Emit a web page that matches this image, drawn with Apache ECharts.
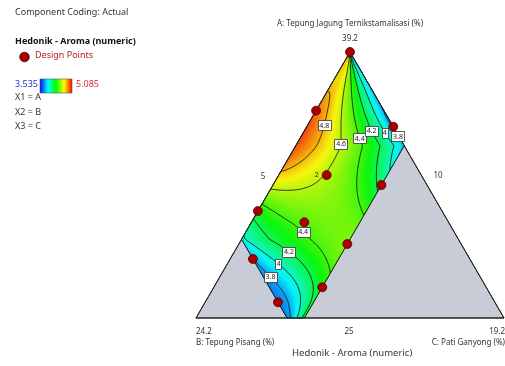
<!DOCTYPE html>
<html>
<head>
<meta charset="utf-8">
<script src="https://cdn.jsdelivr.net/npm/echarts@6/dist/echarts.min.js"></script>
<style>
html, body { margin: 0; padding: 0; background: #fff; }
#chart { width: 505px; height: 366px; }
</style>
</head>
<body>
<div id="chart"></div>
<script>
// ---- mixture definition (actual %, constant total) ----
const componentNames = ['A: Tepung Jagung Ternikstamalisasi (%)', 'B: Tepung Pisang (%)', 'C: Pati Ganyong (%)'];
const componentLow = [25, 10, 5];
const componentHigh = [39.2, 20, 10];
const mixtureTotal = 54.2;

// values printed at the simplex vertices (A, B, C) and at the opposite edges
const vertexLabels = ['39.2', '24.2', '19.2'];
const edgeLabels = ['25', '10', '5'];

// ---- design points (A, B, C) and replicate counts ----
const designA = [39.20, 36.07, 32.63, 35.21, 32.10, 30.71, 30.11, 28.95, 28.15, 26.64, 25.84];
const designB = [10.00, 13.13, 14.36, 10.00, 12.10, 18.49, 16.65, 15.25, 20.00, 17.56, 20.00];
const designC = [5.00, 5.00, 7.21, 8.99, 10.00, 5.00, 7.44, 10.00, 6.05, 10.00, 8.36];
const designReps = [1, 1, 2, 1, 1, 1, 1, 1, 1, 1, 1];

// ---- response readings: Hedonik - Aroma at known blends ----
const readA = [38.06, 35.19, 33.63, 33.11, 33.02, 36.54, 35.93, 34.22, 33.11, 32.84, 31.89, 31.67,
  38.14, 34.70, 33.90, 32.31, 30.64, 30.89, 30.37, 29.66, 28.98, 27.17,
  36.81, 34.87, 33.90, 32.16, 29.66, 28.56, 27.91, 25.14,
  35.05, 33.11, 37.96, 29.24, 27.86, 25.00,
  34.87, 37.07, 34.20, 28.60, 27.17, 25.00, 27.84, 26.42, 25.00,
  35.51, 32.58, 30.45, 28.92, 38.49, 33.52, 31.39, 28.55, 26.42, 38.49, 38.77, 27.84, 33.86,
  35.65, 28.55, 25.71, 27.13];
const readB = [11.14, 13.26, 14.74, 15.59, 16.18, 11.63, 12.02, 13.05, 13.66, 13.98, 15.37, 17.53,
  10.50, 12.02, 12.34, 12.98, 13.58, 18.31, 17.67, 16.90, 16.73, 17.03,
  10.60, 11.16, 11.56, 12.16, 19.54, 18.11, 17.43, 19.16,
  10.53, 11.09, 10.25, 19.96, 19.01, 19.51,
  10.08, 10.00, 10.00, 19.86, 19.77, 19.84, 20.00, 20.00, 20.00,
  13.69, 14.39, 15.07, 15.28, 10.36, 12.84, 16.39, 16.39, 18.52, 10.00, 10.43, 17.81, 10.34,
  10.00, 20.00, 20.00, 20.00];
const readC = [5.00, 5.75, 5.83, 5.50, 5.00, 6.03, 6.25, 6.93, 7.43, 7.38, 6.94, 5.00,
  5.56, 7.48, 7.96, 8.91, 9.98, 5.00, 6.16, 7.64, 8.49, 10.00,
  6.79, 8.17, 8.74, 9.88, 5.00, 7.53, 8.86, 9.90,
  8.62, 10.00, 5.99, 5.00, 7.33, 9.69,
  9.25, 7.13, 10.00, 5.74, 7.26, 9.36, 6.36, 7.78, 9.20,
  5.00, 7.23, 8.68, 10.00, 5.35, 7.84, 6.42, 9.26, 9.26, 5.71, 5.00, 8.55, 10.00,
  8.55, 5.65, 8.49, 7.07];
const readValue = [4.8, 4.8, 4.8, 4.8, 4.8, 4.6, 4.6, 4.6, 4.6, 4.6, 4.6, 4.6,
  4.4, 4.4, 4.4, 4.4, 4.4, 4.4, 4.4, 4.4, 4.4, 4.4,
  4.2, 4.2, 4.2, 4.2, 4.2, 4.2, 4.2, 4.2,
  4.0, 4.0, 4.0, 4.0, 4.0, 4.0,
  3.8, 3.85, 3.77, 3.8, 3.8, 3.8, 3.77, 3.75, 3.73,
  4.92, 4.66, 4.55, 4.45, 4.45, 4.47, 4.5, 4.43, 4.15, 3.88, 4.7, 4.15, 3.8,
  3.82, 3.78, 3.74, 3.76];

// ---- contour levels and where their value tags sit (A, B, C) ----
const contourLevels = [3.8, 4, 4.2, 4.4, 4.6, 4.8];
const tagLevel = [4.8, 4.6, 4.4, 4.2, 4, 3.8, 4.4, 4.2, 4, 3.8];
const tagA = [35.27, 34.27, 34.57, 34.94, 34.90, 34.77, 29.70, 28.59, 27.88, 27.17];
const tagB = [13.20, 13.05, 12.00, 11.15, 10.60, 10.00, 16.87, 18.07, 18.95, 19.70];
const tagC = [5.73, 6.88, 7.63, 8.11, 8.70, 9.43, 7.63, 7.54, 7.37, 7.33];

// colour scale
const colorMin = 3.535;
const colorMax = 5.085;
const colorStops = [[0, [0, 0, 255]], [0.25, [0, 255, 255]], [0.5, [0, 255, 0]], [0.75, [255, 255, 0]], [1, [255, 0, 0]]];

const FONT = '"Noto Sans", "Open Sans", sans-serif';

// ---------- simplex geometry (L-pseudo components) ----------
const span = mixtureTotal - componentLow.reduce((s, v) => s + v, 0);
const bMax = (componentHigh[1] - componentLow[1]) / span;
const cMax = (componentHigh[2] - componentLow[2]) / span;

function pseudo(a, b, c) {
  return [(a - componentLow[0]) / span, (b - componentLow[1]) / span, (c - componentLow[2]) / span];
}
// cartesian position inside the equilateral simplex: x runs B -> C, y is A
function toXY(p) { return [p[2] + p[0] / 2, p[0]]; }

// feasible band coordinates: t = distance from the A vertex, rho = position across the band
function bandLimits(t) { return [Math.max(0, t - cMax), Math.min(t, bMax)]; }
function toTR(p) {
  const t = p[1] + p[2];
  const lim = bandLimits(t);
  const rho = lim[1] - lim[0] > 1e-9 ? (p[1] - lim[0]) / (lim[1] - lim[0]) : 0.5;
  return [t, rho];
}
function fromTR(t, rho) {
  const lim = bandLimits(t);
  const x2 = lim[0] + rho * (lim[1] - lim[0]);
  return [1 - t, x2, t - x2];
}

// ---------- weighted least-squares response surface ----------
const DEG_T = 5, DEG_R = 4;
function basis(t, rho) {
  const u = 2 * t - 1, w = 2 * rho - 1, out = [];
  for (let i = 0; i <= DEG_T; i++) for (let j = 0; j <= DEG_R; j++) out.push(Math.pow(u, i) * Math.pow(w, j));
  return out;
}
function fitSurface() {
  const n = basis(0, 0).length;
  const M = [], v = new Array(n).fill(0);
  for (let i = 0; i < n; i++) M.push(new Array(n).fill(0));
  for (let k = 0; k < readValue.length; k++) {
    const tr = toTR(pseudo(readA[k], readB[k], readC[k]));
    const f = basis(tr[0], tr[1]);
    // readings on the upper B limit get more weight
    const wgt = readB[k] >= componentHigh[1] ? 4 : 1;
    for (let i = 0; i < n; i++) {
      v[i] += wgt * f[i] * readValue[k];
      for (let j = 0; j < n; j++) M[i][j] += wgt * f[i] * f[j];
    }
  }
  for (let i = 0; i < n; i++) M[i][i] += 2e-3;
  // Gaussian elimination with partial pivoting
  for (let c = 0; c < n; c++) {
    let piv = c;
    for (let r = c + 1; r < n; r++) if (Math.abs(M[r][c]) > Math.abs(M[piv][c])) piv = r;
    [M[c], M[piv]] = [M[piv], M[c]]; [v[c], v[piv]] = [v[piv], v[c]];
    for (let r = c + 1; r < n; r++) {
      const f = M[r][c] / M[c][c];
      for (let j = c; j < n; j++) M[r][j] -= f * M[c][j];
      v[r] -= f * v[c];
    }
  }
  const coef = new Array(n).fill(0);
  for (let r = n - 1; r >= 0; r--) {
    let s = v[r];
    for (let j = r + 1; j < n; j++) s -= M[r][j] * coef[j];
    coef[r] = s / M[r][r];
  }
  return coef;
}
const coef = fitSurface();
function response(t, rho) {
  const f = basis(t, rho);
  let s = 0;
  for (let i = 0; i < f.length; i++) s += coef[i] * f[i];
  return s;
}

// ---------- evaluation mesh over the feasible band ----------
function linspace(a, b, n, skipFirst) {
  const out = [];
  for (let i = skipFirst ? 1 : 0; i <= n; i++) out.push(a + (b - a) * i / n);
  return out;
}
const tNodes = linspace(0, cMax, 50).concat(linspace(cMax, bMax, 50, true), linspace(bMax, 1, 42, true));
const rNodes = linspace(0, 1, 70);
const V = tNodes.map(t => rNodes.map(r => response(t, r)));

function colorOf(val) {
  let f = (val - colorMin) / (colorMax - colorMin);
  f = Math.max(0, Math.min(1, f));
  for (let k = 1; k < colorStops.length; k++) {
    if (f <= colorStops[k][0]) {
      const a = colorStops[k - 1], b = colorStops[k];
      const g = (f - a[0]) / (b[0] - a[0]);
      // slightly softened rainbow
      const c = a[1].map((x, i) => Math.round(10 + 0.93 * (x + (b[1][i] - x) * g)));
      return 'rgb(' + c.join(',') + ')';
    }
  }
  return 'rgb(247,10,10)';
}

const cells = [];
for (let i = 0; i < tNodes.length - 1; i++) {
  for (let j = 0; j < rNodes.length - 1; j++) {
    const corners = [[i, j], [i + 1, j], [i + 1, j + 1], [i, j + 1]]
      .map(ij => toXY(fromTR(tNodes[ij[0]], rNodes[ij[1]])));
    const val = response((tNodes[i] + tNodes[i + 1]) / 2, (rNodes[j] + rNodes[j + 1]) / 2);
    cells.push({ pts: corners, color: colorOf(val) });
  }
}

// ---------- contour tracing (marching squares in band coordinates) ----------
function traceLevel(level) {
  const segs = [];
  const pt = (i1, j1, i2, j2) => {
    const v1 = V[i1][j1], v2 = V[i2][j2], f = (level - v1) / (v2 - v1);
    const t = tNodes[i1] + f * (tNodes[i2] - tNodes[i1]);
    const r = rNodes[j1] + f * (rNodes[j2] - rNodes[j1]);
    return toXY(fromTR(t, r));
  };
  for (let i = 0; i < tNodes.length - 1; i++) {
    for (let j = 0; j < rNodes.length - 1; j++) {
      const va = V[i][j] >= level, vb = V[i + 1][j] >= level, vc = V[i + 1][j + 1] >= level, vd = V[i][j + 1] >= level;
      const edges = [
        { on: va !== vb, key: 'T' + i + '_' + j, p: () => pt(i, j, i + 1, j) },
        { on: vb !== vc, key: 'R' + (i + 1) + '_' + j, p: () => pt(i + 1, j, i + 1, j + 1) },
        { on: vd !== vc, key: 'T' + i + '_' + (j + 1), p: () => pt(i, j + 1, i + 1, j + 1) },
        { on: va !== vd, key: 'R' + i + '_' + j, p: () => pt(i, j, i, j + 1) }
      ];
      const hit = edges.filter(e => e.on);
      const add = (e1, e2) => segs.push({ k1: e1.key, p1: e1.p(), k2: e2.key, p2: e2.p() });
      if (hit.length === 2) add(hit[0], hit[1]);
      else if (hit.length === 4) {
        const centre = (V[i][j] + V[i + 1][j] + V[i + 1][j + 1] + V[i][j + 1]) / 4 >= level;
        if (centre === va) { add(edges[0], edges[1]); add(edges[2], edges[3]); }
        else { add(edges[3], edges[0]); add(edges[1], edges[2]); }
      }
    }
  }
  // join segments into polylines
  const byKey = new Map();
  segs.forEach((s, n) => {
    for (const k of [s.k1, s.k2]) { if (!byKey.has(k)) byKey.set(k, []); byKey.get(k).push(n); }
  });
  const used = new Uint8Array(segs.length), lines = [];
  const follow = (n, key) => {
    const s0 = segs[n];
    const pts = [key === s0.k1 ? s0.p1 : s0.p2];
    while (n >= 0 && !used[n]) {
      used[n] = 1;
      const s = segs[n];
      const forward = key === s.k1;
      pts.push(forward ? s.p2 : s.p1);
      key = forward ? s.k2 : s.k1;
      const next = (byKey.get(key) || []).filter(m => !used[m]);
      n = next.length ? next[0] : -1;
    }
    return pts;
  };
  for (const [k, list] of byKey) if (list.length === 1 && !used[list[0]]) lines.push(follow(list[0], k));
  for (let n = 0; n < segs.length; n++) if (!used[n]) lines.push(follow(n, segs[n].k1));
  return lines;
}
const contourSets = contourLevels.map(level => ({ level, lines: traceLevel(level) }));

// value tags snap onto the nearest point of their contour
const tags = tagLevel.map((lv, k) => {
  const anchor = toXY(pseudo(tagA[k], tagB[k], tagC[k]));
  const set = contourSets.find(s => Math.abs(s.level - lv) < 1e-9);
  let best = anchor, bestD = 0.0016;
  if (set) set.lines.forEach(line => line.forEach(p => {
    const dx = (p[0] - anchor[0]) * 308, dy = (p[1] - anchor[1]) * 266;
    const d = (dx * dx + dy * dy) / (308 * 308);
    if (d < bestD) { bestD = d; best = p; }
  }));
  return { pos: best, text: String(lv) };
});

// ---------- outlines ----------
const simplexXY = [[1, 0, 0], [0, 1, 0], [0, 0, 1]].map(toXY);
const regionXY = [[1, 0, 0], [1 - bMax, bMax, 0], [0, bMax, 1 - bMax], [0, 1 - cMax, cMax], [1 - cMax, 0, cMax]].map(toXY);

const designData = designA.map((a, k) => {
  const xy = toXY(pseudo(a, designB[k], designC[k]));
  return {
    value: xy,
    label: designReps[k] > 1 ? { show: true, formatter: String(designReps[k]) } : { show: false }
  };
});

// simplex annotations: [position, text, dx, dy, align]
const axisText = [
  [simplexXY[0], componentNames[0], 0, -28, 'center'],
  [simplexXY[0], vertexLabels[0], 0, -13, 'center'],
  [simplexXY[1], vertexLabels[1], 0, 14, 'left'],
  [simplexXY[1], componentNames[1], 0, 25, 'left'],
  [simplexXY[2], vertexLabels[2], 1, 14, 'right'],
  [simplexXY[2], componentNames[2], 1, 25, 'right'],
  [toXY([0, 0.5, 0.5]), edgeLabels[0], -1, 14, 'center'],
  [toXY([0.5, 0, 0.5]), edgeLabels[1], 11, -9, 'center'],
  [toXY([0.5, 0.5, 0]), edgeLabels[2], -10, -8, 'center']
];

const chart = echarts.init(document.getElementById('chart'), null, { renderer: 'canvas' });

const gradient = new echarts.graphic.LinearGradient(0, 0, 1, 0,
  colorStops.map(s => ({ offset: s[0], color: 'rgb(' + s[1].join(',') + ')' })));

const lineSeries = [];
contourSets.forEach(set => set.lines.forEach(line => {
  lineSeries.push({
    type: 'line', data: line, symbol: 'none', showSymbol: false, silent: true, clip: false,
    lineStyle: { color: '#111', width: 0.8 }, z: 4, animation: false
  });
}));

chart.setOption({
  animation: false,
  grid: { left: 196, right: 1, top: 52, bottom: 48, containLabel: false },
  xAxis: { type: 'value', min: 0, max: 1, show: false },
  yAxis: { type: 'value', min: 0, max: 1, show: false },
  graphic: [
    { type: 'text', left: 15, top: 8, style: { text: 'Component Coding: Actual', font: '9px ' + FONT, fill: '#333' } },
    { type: 'text', left: 15, top: 37, style: { text: 'Hedonik - Aroma (numeric)', font: 'bold 9px ' + FONT, fill: '#111' } },
    { type: 'circle', shape: { cx: 24.5, cy: 57, r: 4.8 }, style: { fill: '#a80000', stroke: '#5a0000', lineWidth: 0.8 } },
    { type: 'text', left: 35, top: 51, style: { text: 'Design Points', font: '9px ' + FONT, fill: '#b52020' } },
    { type: 'text', left: 15, top: 80, style: { text: String(colorMin), font: '9px ' + FONT, fill: '#2a2ad0' } },
    { type: 'rect', shape: { x: 40, y: 79, width: 32, height: 14 }, style: { fill: gradient, stroke: '#555', lineWidth: 0.6 } },
    { type: 'text', left: 76, top: 80, style: { text: String(colorMax), font: '9px ' + FONT, fill: '#d03030' } },
    { type: 'text', left: 15, top: 93, style: { text: 'X1 = A', font: '9px ' + FONT, fill: '#333' } },
    { type: 'text', left: 15, top: 108, style: { text: 'X2 = B', font: '9px ' + FONT, fill: '#333' } },
    { type: 'text', left: 15, top: 122, style: { text: 'X3 = C', font: '9px ' + FONT, fill: '#333' } },
    { type: 'text', left: 292, top: 348, style: { text: 'Hedonik - Aroma (numeric)', font: '9.5px ' + FONT, fill: '#333' } }
  ],
  series: [
    {
      // simplex background
      type: 'custom', data: [[0, 0]], silent: true, z: 1,
      renderItem: (params, api) => ({
        type: 'polygon', shape: { points: simplexXY.map(p => api.coord(p)) },
        style: { fill: '#c8ccd6', stroke: '#222', lineWidth: 1 }
      })
    },
    {
      // coloured response surface
      type: 'custom', data: [[0, 0]], silent: true, z: 2,
      renderItem: (params, api) => ({
        type: 'group',
        children: cells.map(c => ({
          type: 'polygon', shape: { points: c.pts.map(p => api.coord(p)) },
          style: { fill: c.color, stroke: c.color, lineWidth: 0.6 }
        }))
      })
    },
    ...lineSeries,
    {
      // feasible region and simplex outlines
      type: 'custom', data: [[0, 0]], silent: true, z: 5,
      renderItem: (params, api) => ({
        type: 'group', children: [
          { type: 'polygon', shape: { points: regionXY.map(p => api.coord(p)) }, style: { fill: 'none', stroke: '#111', lineWidth: 1 } },
          { type: 'polygon', shape: { points: simplexXY.map(p => api.coord(p)) }, style: { fill: 'none', stroke: '#222', lineWidth: 1 } }
        ]
      })
    },
    {
      // contour value tags
      type: 'custom', data: tags.map(t => t.pos), silent: true, z: 6,
      renderItem: (params, api) => {
        const c = api.coord([api.value(0), api.value(1)]);
        const txt = tags[params.dataIndex].text;
        const w = txt.length * 3.4 + 3;
        return {
          type: 'group', children: [
            { type: 'rect', shape: { x: Math.round(c[0] - w / 2) + 0.5, y: Math.round(c[1] - 5) + 0.5, width: Math.round(w), height: 10 },
              style: { fill: '#fff', stroke: '#333', lineWidth: 0.8 } },
            { type: 'text', style: { text: txt, x: c[0], y: c[1] + 0.5, align: 'center', verticalAlign: 'middle', font: '7px ' + FONT, fill: '#222' } }
          ]
        };
      }
    },
    {
      type: 'scatter', data: designData, symbol: 'circle', symbolSize: 9, silent: true, z: 7,
      itemStyle: { color: '#a80000', borderColor: '#5a0000', borderWidth: 0.8, opacity: 1 },
      label: { position: 'left', distance: 3, fontSize: 7.5, color: '#333', fontFamily: FONT }
    },
    {
      // simplex axis texts
      type: 'custom', data: axisText.map(a => a[0]), silent: true, z: 8,
      renderItem: (params, api) => {
        const a = axisText[params.dataIndex];
        const c = api.coord([api.value(0), api.value(1)]);
        return { type: 'text', style: { text: a[1], x: c[0] + a[2], y: c[1] + a[3], align: a[4], verticalAlign: 'middle', font: '8px ' + FONT, fill: '#333' } };
      }
    }
  ]
});
</script>
</body>
</html>
